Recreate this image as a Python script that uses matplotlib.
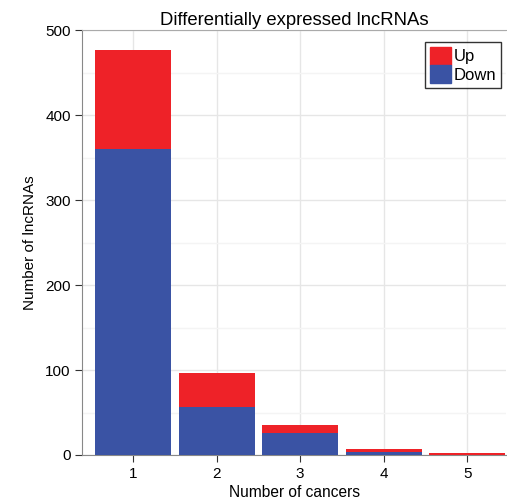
import numpy as np
import matplotlib
matplotlib.use("Agg")
import matplotlib.pyplot as plt
from matplotlib.patches import Patch

plt.rcParams['font.family'] = ['Liberation Sans', 'DejaVu Sans']

n_cancers = [1, 2, 3, 4, 5]
down = [360, 56, 26, 4, 0]
up = [117, 41, 9, 3, 2]

red = '#EE2228'
blue = '#3A53A4'

fig = plt.figure(figsize=(5.07, 4.99), dpi=100)
ax = fig.add_axes([0.1627, 0.0882, 0.8353, 0.8507])

ax.bar(n_cancers, down, width=0.91, color=blue, zorder=3)
ax.bar(n_cancers, up, width=0.91, bottom=down, color=red, zorder=3)

ax.set_xlim(0.395, 5.465)
ax.set_ylim(0, 500)
ax.set_xticks(n_cancers)
ax.set_yticks(np.arange(0, 501, 100))
ax.set_yticks(np.arange(50, 500, 100), minor=True)
ax.grid(which='major', color='#e6e6e6', lw=1, zorder=0)
ax.grid(which='minor', axis='y', color='#f4f4f4', lw=1, zorder=0)
ax.tick_params(axis='both', which='major', labelsize=11, length=5, color='#333333')
ax.tick_params(which='minor', length=0)

ax.spines['right'].set_visible(False)
ax.spines['top'].set_color('#aaaaaa')
for s in ['left', 'bottom']:
    ax.spines[s].set_color('#888888')

ax.set_title('Differentially expressed lncRNAs', fontsize=13.3, pad=4)
ax.set_xlabel('Number of cancers', fontsize=11.2, labelpad=3)
ax.set_ylabel('Number of lncRNAs', fontsize=11, labelpad=6)

handles = [Patch(color=red, label='Up'), Patch(color=blue, label='Down')]
leg = ax.legend(handles=handles, loc='upper right', fontsize=12, frameon=True,
                fancybox=False, edgecolor='black', handlelength=1.25, handleheight=1.25,
                handletextpad=0.15, borderpad=0.3, labelspacing=0.05,
                bbox_to_anchor=(0.988, 0.916), bbox_transform=fig.transFigure,
                borderaxespad=0)
leg.get_frame().set_linewidth(1.0)

fig.savefig('out.png', dpi=100)
